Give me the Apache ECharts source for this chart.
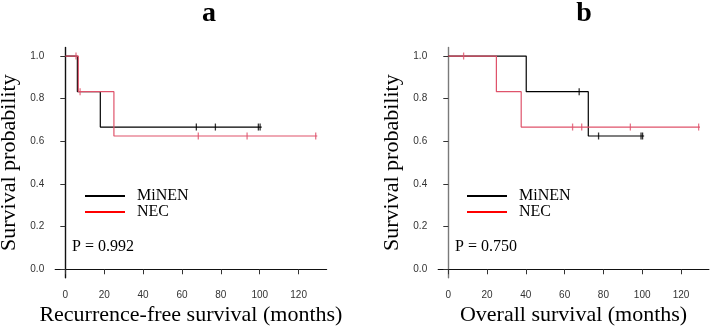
<!DOCTYPE html>
<html lang="en">
<head>
    <meta charset="UTF-8">
    <title>Survival curves</title>
    <script src="https://cdn.jsdelivr.net/npm/echarts@6/dist/echarts.min.js"></script>
    <style>
        html, body { margin: 0; padding: 0; background: #fff; }
        #main { width: 712px; height: 330px; }
    </style>
</head>
<body>
<div id="main"></div>
<script>
    // tick labels
    var xTicks = [0, 20, 40, 60, 80, 100, 120];
    var yTicks = [0, 0.2, 0.4, 0.6, 0.8, 1.0];

    // a: recurrence-free survival (months)
    var minenRfsTime = [0, 6.2, 18, 101];
    var minenRfsSurv = [1, 0.833, 0.667, 0.667];
    var minenRfsCens = [67.4, 77.2, 99.3, 100.2];
    var necRfsTime = [0, 6.7, 25, 129.6];
    var necRfsSurv = [1, 0.833, 0.625, 0.625];
    var necRfsCens = [5.5, 7.6, 68.4, 93.5, 128.8];

    // b: overall survival (months)
    var minenOsTime = [0, 40.2, 72.2, 101];
    var minenOsSurv = [1, 0.833, 0.625, 0.625];
    var minenOsCens = [67.5, 77.5, 99.4, 100.2];
    var necOsTime = [0, 24.8, 37.6, 129.8];
    var necOsSurv = [1, 0.833, 0.667, 0.667];
    var necOsCens = [7.9, 64.1, 68.8, 93.9, 129.1];

    var NEC_COLOR = '#DF536B';
    var SERIF = '"Liberation Serif", "DejaVu Serif", serif';
    var SANS = '"Liberation Sans", Arial, sans-serif';

    function pairs(t, s) {
        var out = [];
        for (var i = 0; i < t.length; i++) out.push([t[i], s[i]]);
        return out;
    }
    // survival value at time x (step function)
    function survAt(x, t, s) {
        var v = s[0];
        for (var i = 0; i < t.length; i++) {
            if (t[i] <= x) v = s[i];
        }
        return v;
    }
    function censPoints(c, t, s) {
        return c.map(function (x) { return [x, survAt(x, t, s)]; });
    }

    function curve(name, idx, t, s, color) {
        return {
            name: name, type: 'line', step: 'end',
            xAxisIndex: idx, yAxisIndex: idx,
            data: pairs(t, s), symbol: 'none',
            lineStyle: { color: color, width: 1.2 },
            itemStyle: { color: color },
            z: name === 'NEC' ? 4 : 3
        };
    }
    function marks(name, idx, c, t, s, color) {
        return {
            name: name, type: 'scatter',
            xAxisIndex: idx, yAxisIndex: idx,
            data: censPoints(c, t, s),
            symbol: 'rect', symbolSize: [1.3, 7],
            itemStyle: { color: color },
            z: name === 'NEC' ? 4 : 3
        };
    }

    function xAxis(idx, nameText) {
        return {
            gridIndex: idx, type: 'value', min: -5.2, max: 134.4,
            name: nameText, nameLocation: 'middle', nameGap: 26,
            nameTextStyle: { fontFamily: SERIF, fontSize: 22, color: '#000' },
            axisLine: { show: true, lineStyle: { color: '#111', width: 1.2 } },
            axisTick: { show: true, length: 5, customValues: xTicks, lineStyle: { color: '#333' } },
            axisLabel: { customValues: xTicks, margin: 12, fontFamily: SANS, fontSize: 10, color: '#333' },
            splitLine: { show: false }
        };
    }
    function yAxis(idx, lineColor) {
        return {
            gridIndex: idx, type: 'value', min: -0.04, max: 1.04,
            name: 'Survival probability', nameLocation: 'middle', nameGap: 35,
            nameTextStyle: { fontFamily: SERIF, fontSize: 22, color: '#000' },
            axisLine: { show: true, lineStyle: { color: lineColor, width: 1.4 } },
            axisTick: { show: true, length: 5, customValues: yTicks, lineStyle: { color: '#333' } },
            axisLabel: {
                customValues: yTicks, margin: 11, fontFamily: SANS, fontSize: 10, color: '#333',
                formatter: function (v) { return v.toFixed(1); }
            },
            splitLine: { show: false }
        };
    }
    function legend(left) {
        return {
            left: left, top: 183, orient: 'vertical', icon: 'rect',
            itemWidth: 40, itemHeight: 2, itemGap: 0,
            textStyle: { fontFamily: SERIF, fontSize: 16, color: '#000', lineHeight: 16, padding: [0, 0, 0, 7] },
            data: [
                { name: 'MiNEN', itemStyle: { color: '#000' } },
                { name: 'NEC', itemStyle: { color: '#ff0000' } }
            ],
            selectedMode: false
        };
    }

    var myChart = echarts.init(document.getElementById('main'));
    var option = {
        animation: false,
        backgroundColor: '#fff',
        grid: [
            { left: 55.2, top: 47.5, width: 271.4, height: 230.3, outerBoundsMode: 'none' },
            { left: 438.2, top: 47.5, width: 270.7, height: 230.3, outerBoundsMode: 'none' }
        ],
        xAxis: [xAxis(0, 'Recurrence-free survival (months)'), xAxis(1, 'Overall survival (months)')],
        yAxis: [yAxis(0, '#111'), yAxis(1, '#7a7a7a')],
        legend: [legend(80), legend(462)],
        graphic: [
            { type: 'text', style: { text: 'a', x: 209, y: 14, textAlign: 'center', textVerticalAlign: 'middle', font: 'bold 28px ' + SERIF, fill: '#000' } },
            { type: 'text', style: { text: 'b', x: 584, y: 14, textAlign: 'center', textVerticalAlign: 'middle', font: 'bold 28px ' + SERIF, fill: '#000' } },
            { type: 'text', style: { text: 'P = 0.992', x: 72, y: 247, textVerticalAlign: 'middle', font: '16px ' + SERIF, fill: '#000' } },
            { type: 'text', style: { text: 'P = 0.750', x: 455, y: 247, textVerticalAlign: 'middle', font: '16px ' + SERIF, fill: '#000' } }
        ],
        series: [
            curve('MiNEN', 0, minenRfsTime, minenRfsSurv, '#000'),
            marks('MiNEN', 0, minenRfsCens, minenRfsTime, minenRfsSurv, '#000'),
            curve('NEC', 0, necRfsTime, necRfsSurv, NEC_COLOR),
            marks('NEC', 0, necRfsCens, necRfsTime, necRfsSurv, NEC_COLOR),
            curve('MiNEN', 1, minenOsTime, minenOsSurv, '#000'),
            marks('MiNEN', 1, minenOsCens, minenOsTime, minenOsSurv, '#000'),
            curve('NEC', 1, necOsTime, necOsSurv, NEC_COLOR),
            marks('NEC', 1, necOsCens, necOsTime, necOsSurv, NEC_COLOR)
        ]
    };
    myChart.setOption(option);
</script>
</body>
</html>
